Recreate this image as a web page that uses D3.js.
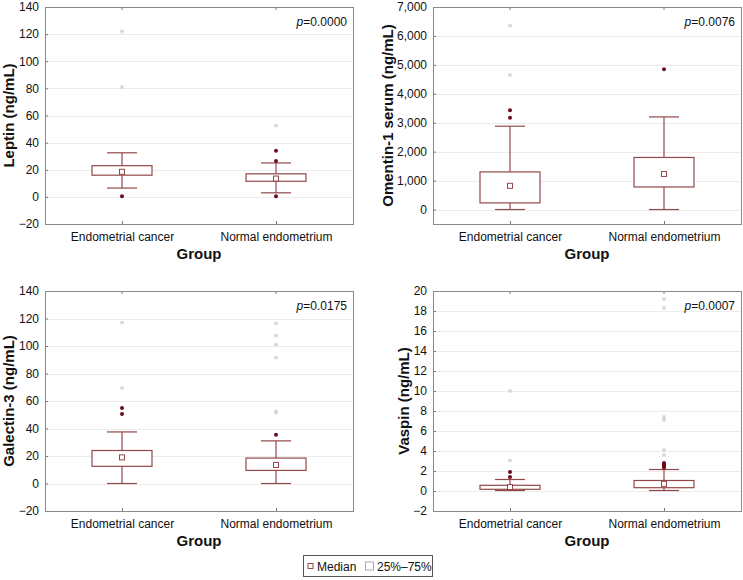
<!DOCTYPE html>
<html>
<head>
<meta charset="utf-8">
<script src="https://cdn.jsdelivr.net/npm/d3@7"></script>
<style>
  body { margin: 0; background: #fff; }
  text { font-family: "Liberation Sans", Arial, sans-serif; fill: #111; }
  .grid line { stroke: #ececec; }
  .frame { fill: none; stroke: #8a8a8a; }
  .box { fill: #fff; stroke: #924848; stroke-width: 1.2; }
  .whisker { stroke: #924848; stroke-width: 1.2; }
  .median { fill: #fff; stroke: #924848; stroke-width: 1; }
  .outlier { fill: #6e0c1c; }
  .extreme { stroke: #cfcfcf; stroke-width: 0.9; }
</style>
</head>
<body>
<svg width="743" height="580"></svg>
<script>
var svg = d3.select("svg");

// data
var groups = ["Endometrial cancer", "Normal endometrium"];
var yTitles = ["Leptin (ng/mL)", "Omentin-1 serum (ng/mL)", "Galectin-3 (ng/mL)", "Vaspin (ng/mL)"];
var pValues = ["0.0000", "0.0076", "0.0175", "0.0007"];
var yDomains = [[-20, 140], [-500, 7000], [-20, 140], [-2, 20]];
var yTicks = [
    [-20, 0, 20, 40, 60, 80, 100, 120, 140],
    [0, 1000, 2000, 3000, 4000, 5000, 6000, 7000],
    [-20, 0, 20, 40, 60, 80, 100, 120, 140],
    [-2, 0, 2, 4, 6, 8, 10, 12, 14, 16, 18, 20]
];
var whiskerLow  = [[6.5, 3], [0, 0], [0, 0], [0.05, 0.05]];
var q1          = [[16, 11.5], [230, 780], [12.5, 9.5], [0.17, 0.33]];
var medians     = [[18.5, 13.5], [820, 1230], [19, 13.5], [0.4, 0.72]];
var q3          = [[23, 17], [1300, 1800], [24, 18.5], [0.57, 1.05]];
var whiskerHigh = [[32.5, 25], [2880, 3200], [37.5, 31], [1.15, 2.15]];
var outliers = [
    [[0.5], [34, 26.5, 0.5]],
    [[3430, 3170], [4850]],
    [[55, 50.5], [35.5]],
    [[1.9, 1.4], [2.8, 2.65, 2.55, 2.45, 2.35]]
];
var extremes = [
    [[122, 81], [52.5]],
    [[6350, 4650], []],
    [[117, 69.5], [116.5, 107.5, 101, 91.5, 52.5, 51.5]],
    [[10, 3.05], [19.2, 18.3, 7.4, 7.1, 4.1, 3.6]]
];

// layout
var frames = [
    { x: 45,  y: 7,   w: 308, h: 217, tx: -36 },
    { x: 433, y: 7,   w: 308, h: 217, tx: -45 },
    { x: 45,  y: 291, w: 308, h: 220, tx: -36 },
    { x: 433, y: 291, w: 308, h: 220, tx: -29 }
];
var boxW = 60, capW = 30;
var fmtComma = d3.format(",");

frames.forEach(function(f, i) {
    var g = svg.append("g").attr("transform", "translate(" + f.x + "," + f.y + ")");

    var x = d3.scalePoint().domain(groups).range([0, f.w]).padding(0.5);
    var y = d3.scaleLinear().domain(yDomains[i]).range([f.h, 0]);

    // grid
    g.append("g").attr("class", "grid")
        .selectAll("line").data(yTicks[i]).enter().append("line")
        .attr("x1", 0).attr("x2", f.w)
        .attr("y1", d => Math.round(y(d)) + 0.5)
        .attr("y2", d => Math.round(y(d)) + 0.5);

    // y axis
    var yAxis = d3.axisLeft(y).tickValues(yTicks[i]).tickSize(-3).tickPadding(6)
        .tickFormat(d => i == 1 ? fmtComma(d) : (d < 0 ? "\u2212" + Math.abs(d) : d));
    var ya = g.append("g").call(yAxis);
    ya.select(".domain").remove();
    ya.selectAll(".tick line").attr("stroke", "#777");
    ya.selectAll("text").style("font-size", "12px").attr("fill", "#111")
        .style("font-family", "'Liberation Sans', Arial, sans-serif");

    // x axis labels
    var xa = g.append("g").attr("transform", "translate(0," + f.h + ")")
        .call(d3.axisBottom(x).tickSize(-3).tickPadding(8));
    xa.select(".domain").remove();
    xa.selectAll(".tick line").attr("stroke", "#777");
    xa.selectAll("text").style("font-size", "12px").attr("fill", "#111")
        .style("font-family", "'Liberation Sans', Arial, sans-serif");

    // top ticks
    g.selectAll(".ttick").data(groups).enter().append("line")
        .attr("x1", d => x(d)).attr("x2", d => x(d))
        .attr("y1", 0).attr("y2", 3).attr("stroke", "#777");

    g.append("rect").attr("class", "frame")
        .attr("x", 0.5).attr("y", 0.5).attr("width", f.w).attr("height", f.h);

    // boxes
    groups.forEach(function(grp, j) {
        var cx = x(grp);
        g.append("line").attr("class", "whisker")
            .attr("x1", cx).attr("x2", cx)
            .attr("y1", y(whiskerLow[i][j])).attr("y2", y(q1[i][j]));
        g.append("line").attr("class", "whisker")
            .attr("x1", cx).attr("x2", cx)
            .attr("y1", y(q3[i][j])).attr("y2", y(whiskerHigh[i][j]));
        [whiskerLow[i][j], whiskerHigh[i][j]].forEach(function(v) {
            g.append("line").attr("class", "whisker")
                .attr("x1", cx - capW / 2).attr("x2", cx + capW / 2)
                .attr("y1", y(v)).attr("y2", y(v));
        });
        g.append("rect").attr("class", "box")
            .attr("x", cx - boxW / 2).attr("width", boxW)
            .attr("y", y(q3[i][j])).attr("height", Math.max(1, y(q1[i][j]) - y(q3[i][j])));
        g.append("rect").attr("class", "median")
            .attr("x", cx - 2.5).attr("y", y(medians[i][j]) - 2.5)
            .attr("width", 5).attr("height", 5);

        g.selectAll(null).data(outliers[i][j]).enter().append("circle")
            .attr("class", "outlier")
            .attr("cx", cx).attr("cy", d => y(d)).attr("r", 2);

        var ex = g.selectAll(null).data(extremes[i][j]).enter().append("g")
            .attr("transform", d => "translate(" + cx + "," + y(d) + ")");
        ex.append("line").attr("class", "extreme").attr("x1", -2).attr("x2", 2);
        ex.append("line").attr("class", "extreme").attr("y1", -2).attr("y2", 2);
        ex.append("line").attr("class", "extreme").attr("x1", -1.6).attr("x2", 1.6).attr("y1", -1.6).attr("y2", 1.6);
        ex.append("line").attr("class", "extreme").attr("x1", -1.6).attr("x2", 1.6).attr("y1", 1.6).attr("y2", -1.6);
    });

    // p value
    var pt = g.append("text").attr("x", f.w - 6).attr("y", 19)
        .attr("text-anchor", "end").style("font-size", "12px");
    pt.append("tspan").style("font-style", "italic").text("p");
    pt.append("tspan").text("=" + pValues[i]);

    // titles
    g.append("text")
        .attr("transform", "translate(" + f.tx + "," + (f.h / 2) + ") rotate(-90)")
        .attr("text-anchor", "middle").attr("dy", "0.35em")
        .style("font-size", "15px").style("font-weight", "bold")
        .text(yTitles[i]);
    g.append("text").attr("x", f.w / 2).attr("y", f.h + 35)
        .attr("text-anchor", "middle")
        .style("font-size", "15px").style("font-weight", "bold")
        .text("Group");
});

// legend
var lg = svg.append("g").attr("transform", "translate(303,555)");
lg.append("rect").attr("x", 0.5).attr("y", 0.5).attr("width", 129).attr("height", 21)
    .attr("fill", "#fff").attr("stroke", "#555");
lg.append("rect").attr("class", "median").attr("x", 5).attr("y", 8.5).attr("width", 5).attr("height", 5);
lg.append("text").attr("x", 14).attr("y", 15.5).style("font-size", "12px").text("Median");
lg.append("rect").attr("x", 62.5).attr("y", 7).attr("width", 8).attr("height", 8)
    .attr("fill", "#fff").attr("stroke", "#aaa");
lg.append("text").attr("x", 74).attr("y", 15.5).style("font-size", "12px").text("25%\u201375%");
</script>
</body>
</html>
